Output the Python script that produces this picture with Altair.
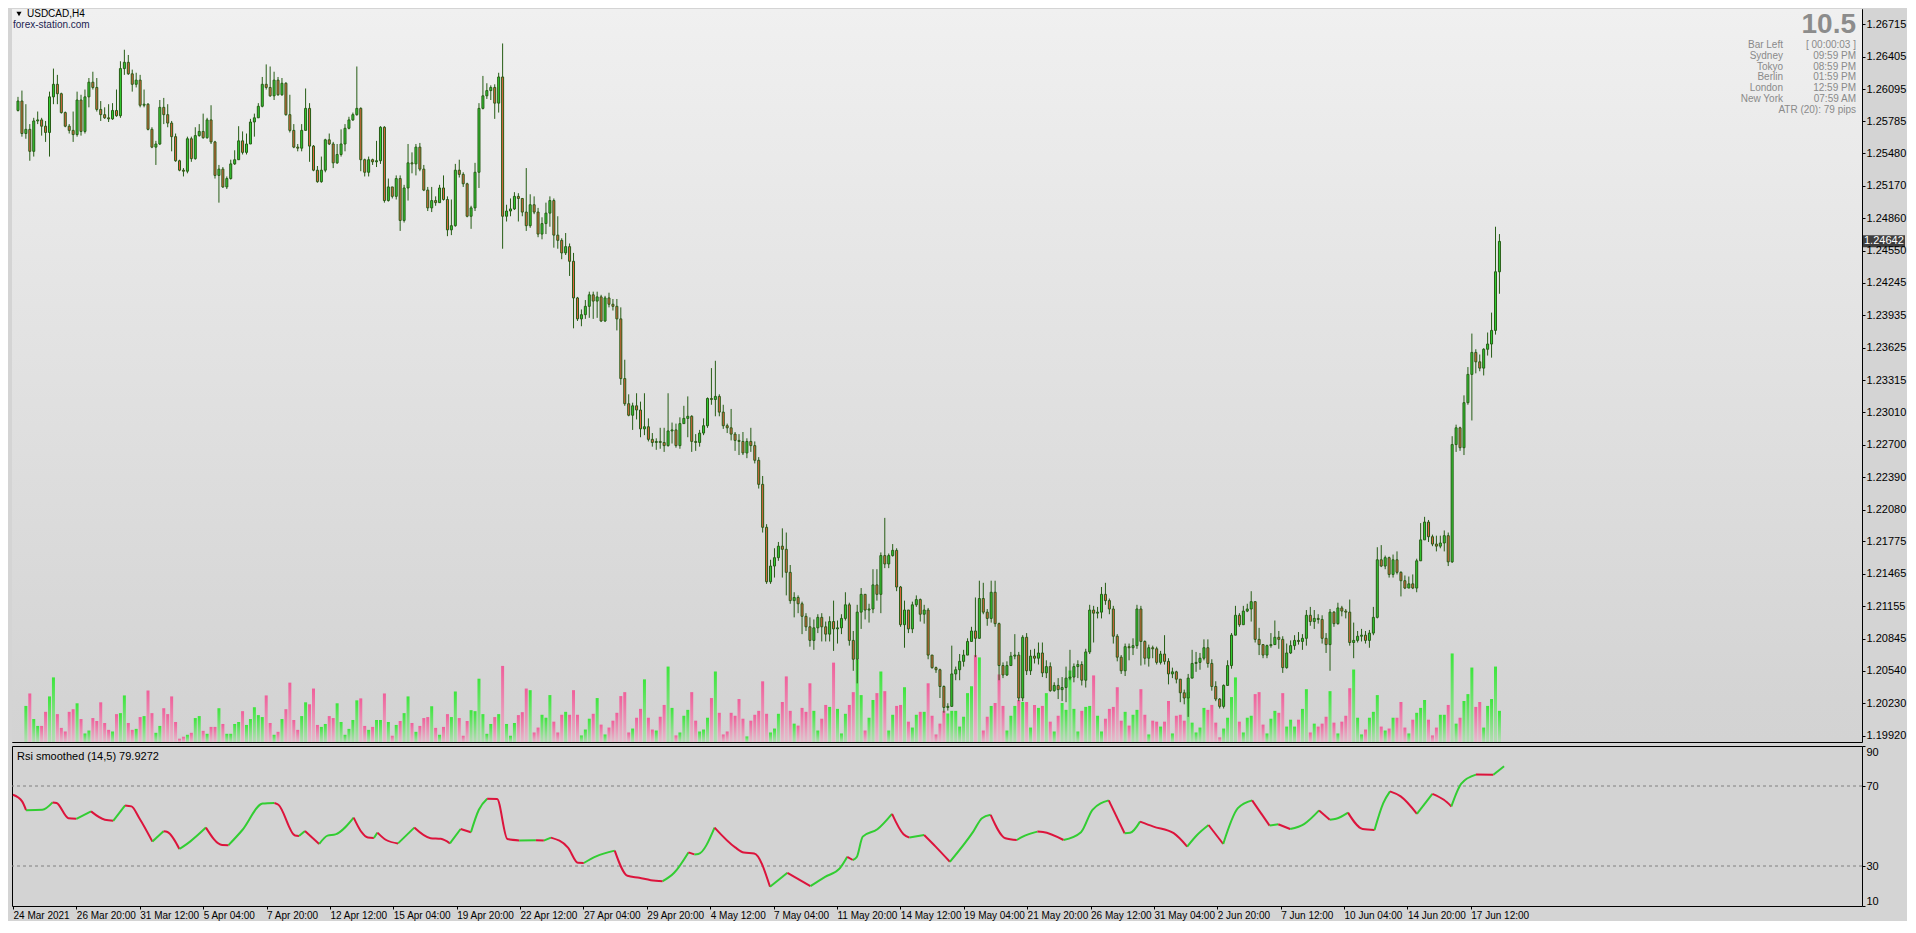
import json
import altair as alt
import pandas as pd

# ---------------- data ----------------
SYMBOL = "USDCAD,H4"
SOURCE = "forex-station.com"

# prices in units of 0.0001 ; each bar opens where the previous one closed
FIRST_OPEN = 12589
CLOSE = [
    12598, 12567, 12571, 12550, 12579, 12580, 12574, 12568, 12602, 12614,
    12605, 12587, 12574, 12570, 12566, 12599, 12569, 12602, 12616, 12611,
    12590, 12585, 12582, 12581, 12589, 12584, 12629, 12635, 12624, 12614,
    12618, 12594, 12595, 12571, 12554, 12557, 12592, 12585, 12577, 12564,
    12541, 12532, 12531, 12562, 12543, 12565, 12569, 12563, 12580, 12559,
    12527, 12533, 12516, 12524, 12538, 12542, 12560, 12549, 12557, 12578,
    12582, 12593, 12614, 12611, 12603, 12618, 12604, 12615, 12585, 12570,
    12554, 12553, 12570, 12591, 12555, 12532, 12521, 12532, 12561, 12557,
    12539, 12547, 12557, 12572, 12580, 12585, 12591, 12542, 12530, 12542,
    12540, 12541, 12573, 12503, 12516, 12507, 12524, 12484, 12515, 12539,
    12538, 12554, 12533, 12513, 12496, 12503, 12501, 12515, 12504, 12475,
    12479, 12532, 12528, 12519, 12488, 12496, 12530, 12591, 12603, 12608,
    12611, 12596, 12621, 12488, 12493, 12495, 12507, 12505, 12492, 12479,
    12499, 12492, 12471, 12481, 12491, 12503, 12470, 12465, 12453, 12459,
    12445, 12410, 12390, 12394, 12402, 12413, 12407, 12411, 12388, 12410,
    12404, 12402, 12390, 12333, 12309, 12298, 12307, 12303, 12285, 12287,
    12275, 12272, 12273, 12272, 12269, 12283, 12284, 12269, 12290, 12295,
    12297, 12273, 12272, 12281, 12288, 12314, 12313, 12316, 12301, 12288,
    12286, 12280, 12274, 12273, 12262, 12273, 12269, 12255, 12232, 12191,
    12139, 12154, 12162, 12173, 12170, 12148, 12121, 12124, 12118, 12106,
    12096, 12083, 12095, 12105, 12096, 12089, 12101, 12094, 12095, 12104,
    12117, 12083, 12065, 12110, 12127, 12112, 12113, 12136, 12127, 12164,
    12156, 12164, 12169, 12134, 12098, 12112, 12094, 12117, 12122, 12108,
    12112, 12069, 12057, 12055, 12039, 12019, 12020, 12051, 12055, 12063,
    12069, 12082, 12092, 12085, 12123, 12110, 12104, 12129, 12099, 12059,
    12050, 12059, 12068, 12069, 12028, 12086, 12054, 12068, 12066, 12071,
    12052, 12058, 12035, 12040, 12036, 12038, 12047, 12048, 12058, 12060,
    12045, 12072, 12112, 12109, 12110, 12127, 12121, 12113, 12087, 12067,
    12054, 12077, 12076, 12078, 12113, 12082, 12066, 12076, 12075, 12062,
    12070, 12063, 12051, 12053, 12046, 12033, 12028, 12047, 12061, 12062,
    12066, 12076, 12061, 12039, 12027, 12020, 12040, 12059, 12088, 12107,
    12098, 12111, 12113, 12120, 12084, 12079, 12069, 12078, 12079, 12086,
    12084, 12057, 12071, 12078, 12083, 12082, 12085, 12107, 12101, 12104,
    12103, 12085, 12079, 12110, 12099, 12114, 12111, 12110, 12081, 12083,
    12087, 12088, 12083, 12090, 12105, 12160, 12154, 12162, 12146, 12160,
    12148, 12140, 12133, 12137, 12133, 12159, 12179, 12196, 12182, 12175,
    12173, 12176, 12183, 12158, 12270, 12286, 12267, 12310, 12337, 12358,
    12349, 12343, 12361, 12366, 12379, 12435, 12464,
]
HIGH = [
    12602, 12608, 12595, 12576, 12582, 12588, 12582, 12579, 12607, 12629,
    12623, 12606, 12588, 12576, 12588, 12607, 12604, 12609, 12620, 12626,
    12620, 12598, 12592, 12595, 12596, 12609, 12636, 12647, 12642, 12628,
    12625, 12623, 12609, 12596, 12573, 12560, 12599, 12601, 12595, 12579,
    12567, 12542, 12534, 12564, 12564, 12573, 12576, 12586, 12582, 12594,
    12560, 12537, 12535, 12526, 12542, 12551, 12574, 12569, 12567, 12581,
    12586, 12596, 12621, 12633, 12631, 12626, 12621, 12620, 12616, 12604,
    12576, 12557, 12576, 12610, 12596, 12556, 12536, 12545, 12562, 12567,
    12559, 12557, 12571, 12576, 12583, 12587, 12631, 12592, 12543, 12545,
    12543, 12560, 12574, 12574, 12524, 12512, 12527, 12527, 12518, 12557,
    12549, 12557, 12558, 12537, 12516, 12516, 12507, 12518, 12527, 12507,
    12504, 12538, 12542, 12530, 12520, 12498, 12539, 12596, 12622, 12615,
    12613, 12614, 12625, 12653, 12499, 12505, 12511, 12510, 12505, 12534,
    12509, 12507, 12496, 12487, 12501, 12507, 12505, 12488, 12467, 12472,
    12462, 12453, 12411, 12399, 12408, 12416, 12416, 12416, 12413, 12412,
    12415, 12409, 12409, 12401, 12351, 12318, 12310, 12319, 12311, 12319,
    12295, 12281, 12276, 12286, 12286, 12319, 12291, 12290, 12296, 12307,
    12316, 12298, 12280, 12284, 12295, 12315, 12343, 12350, 12318, 12308,
    12290, 12304, 12282, 12280, 12282, 12276, 12286, 12273, 12258, 12240,
    12194, 12160, 12171, 12177, 12190, 12186, 12155, 12129, 12126, 12120,
    12109, 12105, 12103, 12108, 12109, 12101, 12106, 12121, 12102, 12108,
    12129, 12119, 12092, 12117, 12133, 12127, 12118, 12151, 12151, 12167,
    12200, 12166, 12175, 12171, 12135, 12121, 12112, 12120, 12126, 12123,
    12117, 12114, 12069, 12058, 12056, 12040, 12023, 12078, 12058, 12070,
    12074, 12085, 12096, 12124, 12140, 12138, 12113, 12140, 12140, 12100,
    12062, 12063, 12072, 12089, 12072, 12088, 12090, 12074, 12075, 12081,
    12081, 12064, 12062, 12043, 12047, 12048, 12058, 12074, 12061, 12064,
    12063, 12075, 12117, 12116, 12115, 12134, 12138, 12123, 12116, 12089,
    12069, 12080, 12080, 12085, 12117, 12116, 12083, 12079, 12078, 12077,
    12073, 12088, 12066, 12057, 12054, 12046, 12036, 12051, 12074, 12072,
    12071, 12084, 12084, 12065, 12044, 12028, 12041, 12064, 12090, 12116,
    12109, 12116, 12118, 12130, 12120, 12095, 12079, 12079, 12090, 12102,
    12092, 12087, 12080, 12083, 12088, 12091, 12089, 12112, 12115, 12112,
    12108, 12107, 12090, 12113, 12111, 12119, 12116, 12113, 12122, 12100,
    12092, 12094, 12092, 12093, 12115, 12172, 12174, 12164, 12163, 12165,
    12168, 12149, 12145, 12144, 12146, 12161, 12195, 12201, 12198, 12184,
    12183, 12183, 12188, 12186, 12278, 12289, 12287, 12317, 12344, 12376,
    12361, 12356, 12362, 12377, 12396, 12478, 12471,
]
LOW = [
    12588, 12564, 12562, 12541, 12545, 12576, 12565, 12559, 12545, 12595,
    12595, 12586, 12573, 12567, 12559, 12564, 12565, 12567, 12592, 12609,
    12588, 12579, 12581, 12578, 12580, 12583, 12582, 12623, 12623, 12607,
    12611, 12592, 12592, 12570, 12553, 12537, 12556, 12576, 12573, 12550,
    12540, 12531, 12526, 12529, 12540, 12542, 12564, 12562, 12562, 12557,
    12524, 12501, 12515, 12514, 12523, 12537, 12542, 12547, 12547, 12557,
    12564, 12582, 12592, 12609, 12602, 12599, 12603, 12603, 12584, 12568,
    12553, 12550, 12550, 12570, 12540, 12531, 12520, 12520, 12530, 12556,
    12534, 12538, 12545, 12550, 12571, 12579, 12584, 12531, 12526, 12526,
    12537, 12535, 12538, 12501, 12502, 12505, 12504, 12474, 12482, 12503,
    12529, 12527, 12531, 12512, 12493, 12492, 12498, 12501, 12503, 12469,
    12470, 12478, 12525, 12516, 12487, 12476, 12493, 12515, 12590, 12600,
    12599, 12581, 12587, 12457, 12483, 12488, 12494, 12483, 12488, 12474,
    12477, 12490, 12468, 12466, 12471, 12478, 12458, 12457, 12447, 12451,
    12431, 12381, 12388, 12383, 12390, 12391, 12390, 12391, 12387, 12387,
    12401, 12398, 12379, 12327, 12307, 12297, 12284, 12294, 12277, 12279,
    12273, 12268, 12265, 12266, 12263, 12268, 12271, 12267, 12266, 12290,
    12277, 12263, 12264, 12268, 12279, 12286, 12308, 12297, 12297, 12285,
    12281, 12274, 12264, 12260, 12260, 12257, 12263, 12252, 12228, 12186,
    12137, 12137, 12143, 12159, 12143, 12126, 12118, 12105, 12109, 12089,
    12092, 12077, 12074, 12090, 12082, 12082, 12082, 12073, 12080, 12089,
    12102, 12078, 12054, 12042, 12094, 12103, 12100, 12109, 12121, 12109,
    12152, 12152, 12163, 12130, 12096, 12076, 12090, 12090, 12115, 12101,
    12099, 12065, 12056, 12052, 12028, 12014, 12016, 12020, 12045, 12045,
    12058, 12069, 12082, 12067, 12085, 12108, 12097, 12100, 12096, 12045,
    12047, 12049, 12059, 12065, 12025, 12025, 12050, 12050, 12061, 12060,
    12048, 12047, 12034, 12034, 12027, 12025, 12024, 12045, 12043, 12047,
    12040, 12038, 12070, 12081, 12104, 12104, 12117, 12108, 12080, 12063,
    12051, 12049, 12064, 12069, 12075, 12059, 12060, 12058, 12066, 12060,
    12060, 12060, 12041, 12047, 12042, 12024, 12022, 12010, 12047, 12053,
    12055, 12064, 12057, 12035, 12025, 12018, 12018, 12040, 12056, 12088,
    12096, 12098, 12110, 12101, 12081, 12069, 12066, 12066, 12076, 12079,
    12075, 12052, 12056, 12070, 12074, 12079, 12074, 12078, 12097, 12094,
    12099, 12080, 12071, 12054, 12096, 12098, 12106, 12104, 12078, 12066,
    12081, 12082, 12080, 12076, 12088, 12104, 12153, 12151, 12143, 12143,
    12146, 12125, 12132, 12133, 12132, 12129, 12159, 12180, 12177, 12173,
    12168, 12171, 12168, 12154, 12157, 12263, 12264, 12260, 12308, 12293,
    12338, 12340, 12336, 12355, 12353, 12375, 12414,
]
# tick volume (relative units)
VOLUME = [
    0, 0,
    110, 148, 70, 49, 49, 92, 139, 197, 85, 43,
    32, 92, 100, 118, 70, 26, 35, 73, 64, 121,
    58, 37, 32, 85, 88, 142, 58, 37, 40, 76,
    79, 157, 88, 28, 49, 103, 85, 139, 61, 10,
    16, 22, 28, 73, 79, 34, 25, 46, 46, 103,
    55, 25, 25, 55, 61, 94, 52, 70, 106, 82,
    76, 142, 58, 22, 31, 70, 100, 181, 67, 37,
    79, 121, 115, 163, 52, 46, 55, 79, 73, 118,
    61, 22, 40, 67, 127, 133, 49, 37, 46, 67,
    67, 148, 61, 19, 52, 64, 88, 139, 58, 31,
    49, 73, 76, 109, 43, 22, 46, 85, 76, 154,
    73, 19, 64, 97, 94, 193, 85, 25, 55, 76,
    85, 232, 55, 19, 58, 82, 91, 163,
    158, 29, 44, 83, 74, 143, 62, 29, 83, 92,
    83, 158, 83, 20, 38, 71, 86, 134, 53, 23,
    44, 65, 89, 140, 152, 29, 41, 74, 101, 191,
    74, 38, 35, 77, 113, 230, 104, 20, 29, 80,
    98, 152, 65, 32, 38, 74, 134, 215, 89, 23,
    32, 89, 80, 131, 71, 17, 65, 83, 95, 185,
    86, 29, 41, 86, 122, 200, 95, 56, 50, 104,
    92, 179, 95, 35, 71, 113, 107, 242, 101, 26,
    86, 113, 152, 250, 143, 35, 74, 128, 149, 215,
    155, 35, 83, 110, 113, 167, 62, 44, 83, 92,
    92, 179, 80, 23, 56, 95, 87, 95, 95, 47,
    77, 149, 170, 265, 258, 35, 77, 110, 119, 206,
    110, 35, 80, 110, 128, 122,
    122, 44, 113, 104, 110, 149, 62, 32, 80, 119,
    98, 218, 101, 32, 95, 107, 110, 203, 80, 32,
    71, 101, 107, 167, 65, 92, 50, 83, 98, 161,
    83, 23, 65, 62, 47, 62, 125, 26, 80, 83,
    65, 152, 59, 29, 44, 104, 98, 113, 59, 14,
    41, 74, 137, 197, 62, 29, 74, 80, 146, 152,
    53, 26, 71, 95, 89, 149, 47, 68, 47, 68,
    101, 161, 29, 56, 47, 56, 77, 155, 59, 26,
    62, 80, 164, 221, 74, 23, 38, 74, 92, 143,
    47, 35, 41, 74, 74, 122, 44, 26, 68, 89,
    104, 128, 68, 20, 44, 83, 83, 113, 270, 56,
    74, 125, 146, 227, 107, 122, 44, 110, 131, 230, 95,
]

# smoothed RSI, read at the turning points of the curve (bar index, value)
RSI_BAR = [
    0, 2.3, 3.3, 7.4, 10, 11, 14, 16, 19.7, 23.2,
    25.3, 28.3, 29.9, 31.9, 35.2, 38, 39, 42, 44.7, 48.7,
    52.8, 54.4, 57.9, 63, 66, 67, 71.2, 72.2, 73.7, 77.3,
    79.4, 81.4, 86, 88, 89.6, 91.1, 92, 94.2, 97.2, 101.3,
    105.4, 108, 110.3, 113, 115.6, 117.6, 119.7, 122.2, 124.8, 127.8,
    132, 134, 135.8, 140.1, 142.6, 144.1, 147.2, 149.3, 151.9, 155.1,
    158.1, 161, 164, 166.9, 170.5, 172, 173, 177.1, 182.3, 184.5,
    187.1, 191.1, 195.5, 201.3, 205, 208.7, 210.6, 212, 213, 214.5,
    218.2, 221.9, 224.8, 226.3, 230, 232.9, 236.5, 242.4, 244.6, 246.8,
    250.5, 253.4, 254.9, 258.6, 260, 265.2, 269.6, 272.5, 276.6, 280.6,
    282, 284.5, 287.9, 293, 296.4, 298.9, 301.8, 305.5, 309.2, 312.8,
    317.2, 319.4, 322.4, 326, 329.7, 332.4, 334, 337, 340.7, 343.7,
    345.9, 347.6, 350.3, 354.4, 358.3, 361.2, 363.1, 365.6, 369.3, 373.7,
    376.4,
]
RSI_VAL = [
    65.6, 62.3, 57.9, 58.1, 61.8, 61.5, 53.9, 53.6, 57.3, 53.1,
    52.6, 60.3, 59.8, 53.9, 42.2, 47.4, 47.0, 38.5, 42.2, 49.2,
    40.5, 40.4, 48.0, 61.2, 61.5, 60.6, 45.2, 45.0, 47.5, 41.0,
    45.2, 45.8, 54.2, 46.9, 44.2, 44.0, 46.7, 43.0, 41.3, 49.2,
    43.9, 43.6, 41.3, 48.5, 46.9, 58.1, 63.6, 63.5, 43.5, 42.8,
    42.9, 42.7, 44.2, 39.2, 31.6, 31.5, 34.8, 36.3, 37.7, 25.1,
    24.1, 22.9, 22.4, 26.6, 36.8, 35.8, 36.0, 49.2, 39.3, 36.7,
    36.3, 19.6, 26.6, 19.9, 24.6, 28.8, 34.6, 33.0, 34.5, 44.7,
    48.4, 56.1, 45.9, 44.2, 45.5, 39.7, 32.1, 47.2, 53.9, 55.6,
    43.9, 43.0, 44.7, 47.2, 47.0, 43.0, 46.9, 58.1, 62.8, 46.4,
    46.6, 52.2, 49.7, 46.4, 39.7, 45.5, 50.5, 41.0, 58.9, 62.8,
    50.2, 50.9, 48.5, 51.1, 57.8, 53.1, 53.6, 56.7, 48.5, 48.0,
    61.4, 67.3, 64.8, 56.1, 66.1, 63.1, 59.8, 71.2, 75.7, 75.6,
    79.9,
]
RSI_TITLE = "Rsi smoothed (14,5) 79.9272"
RSI_LEVELS = [70, 30]
RSI_TICKS = [90, 70, 30, 10]

PRICE_TICKS = [1.26715, 1.26405, 1.26095, 1.25785, 1.25480, 1.25170, 1.24860,
               1.24550, 1.24245, 1.23935, 1.23625, 1.23315, 1.23010, 1.22700,
               1.22390, 1.22080, 1.21775, 1.21465, 1.21155, 1.20845, 1.20540,
               1.20230, 1.19920]
CURRENT_PRICE = 1.24642

TIME_TICKS = [0, 16, 32, 48, 64, 80, 96, 112, 128, 144, 160, 176, 192, 208,
              224, 240, 256, 272, 288, 304, 320, 336, 352, 368]
TIME_LABELS = ["24 Mar 2021", "26 Mar 20:00", "31 Mar 12:00", "5 Apr 04:00",
               "7 Apr 20:00", "12 Apr 12:00", "15 Apr 04:00", "19 Apr 20:00",
               "22 Apr 12:00", "27 Apr 04:00", "29 Apr 20:00", "4 May 12:00",
               "7 May 04:00", "11 May 20:00", "14 May 12:00", "19 May 04:00",
               "21 May 20:00", "26 May 12:00", "31 May 04:00", "2 Jun 20:00",
               "7 Jun 12:00", "10 Jun 04:00", "14 Jun 20:00", "17 Jun 12:00"]

CLOCK_BIG = "10.5"
INFO_LABELS = ["Bar Left", "Sydney", "Tokyo", "Berlin", "London", "New York"]
INFO_VALUES = ["[ 00:00:03 ]", "09:59 PM", "08:59 PM", "01:59 PM", "12:59 PM",
               "07:59 AM", "ATR (20): 79 pips"]

assert len(CLOSE) == len(HIGH) == len(LOW) == len(VOLUME)
assert len(RSI_BAR) == len(RSI_VAL)

# ---------------- styling ----------------
FONT = "Liberation Sans"
W, H1, H2 = 1850, 733, 160
DARK = "#275d16"
UP_FILL = "#32cd32"
DOWN_FILL = "#e2643f"
RSI_UP = "#32cd32"
RSI_DOWN = "#dc143c"
BG = "#d4d4d4"

n = len(CLOSE)
opens = [FIRST_OPEN] + CLOSE[:-1]
df = pd.DataFrame({
    "i": list(range(n)),
    "open": [v / 1e4 for v in opens],
    "close": [v / 1e4 for v in CLOSE],
    "high": [v / 1e4 for v in HIGH],
    "low": [v / 1e4 for v in LOW],
    "vol": VOLUME,
})
df["dir"] = ["up" if c >= o else "down" for o, c in zip(opens, CLOSE)]

# RSI: split into runs of equal direction (consecutive read points only)
rsi_rows = []
run, prev = 0, None
for k in range(len(RSI_BAR) - 1):
    d = "rise" if RSI_VAL[k + 1] >= RSI_VAL[k] else "fall"
    if d != prev:
        run += 1
        rsi_rows.append({"run": run, "trend": d, "bar": RSI_BAR[k], "rsi": RSI_VAL[k]})
        prev = d
    rsi_rows.append({"run": run, "trend": d, "bar": RSI_BAR[k + 1], "rsi": RSI_VAL[k + 1]})
rsi_df = pd.DataFrame(rsi_rows)

one = pd.DataFrame({"a": [0]})

xscale = alt.Scale(domain=[-0.25, 466.75], nice=False, zero=False)
pscale = alt.Scale(domain=[1.19860, 1.26859], nice=False, zero=False)
vscale = alt.Scale(domain=[0, 2235], nice=False, zero=True)
rscale = alt.Scale(domain=[10, 90], nice=False, zero=False)

price_axis = alt.Axis(orient="right", values=PRICE_TICKS, format=".5f", title=None,
                      tickSize=3, labelPadding=1, labelOverlap=False, labelBound=False)

bg_grad = alt.LinearGradient(gradient="linear", x1=0, x2=0, y1=0, y2=1, stops=[
    alt.GradientStop(color="#f0f0f0", offset=0),
    alt.GradientStop(color="#d4d4d4", offset=0.94),
    alt.GradientStop(color="#d3d3d3", offset=1)])
vol_up_grad = alt.LinearGradient(gradient="linear", x1=0, x2=0, y1=0, y2=1, stops=[
    alt.GradientStop(color="#3be63b", offset=0),
    alt.GradientStop(color="#b6dcb6", offset=1)])
vol_dn_grad = alt.LinearGradient(gradient="linear", x1=0, x2=0, y1=0, y2=1, stops=[
    alt.GradientStop(color="#f05e9a", offset=0),
    alt.GradientStop(color="#e4bfcc", offset=1)])

bg = alt.Chart(one).mark_rect(color=bg_grad).encode(
    x=alt.value(0), x2=alt.value(W), y=alt.value(0), y2=alt.value(H1))

base = alt.Chart(df)
vol_up = base.transform_filter(alt.datum.dir == "up").mark_bar(size=3, color=vol_up_grad).encode(
    x=alt.X("i:Q", scale=xscale, axis=None),
    y=alt.Y("vol:Q", scale=vscale, axis=None))
vol_dn = base.transform_filter(alt.datum.dir == "down").mark_bar(size=3, color=vol_dn_grad).encode(
    x=alt.X("i:Q", scale=xscale, axis=None),
    y=alt.Y("vol:Q", scale=vscale, axis=None))

wicks = base.mark_rule(color=DARK, strokeWidth=1).encode(
    x=alt.X("i:Q", scale=xscale, axis=None),
    y=alt.Y("low:Q", scale=pscale, axis=price_axis),
    y2="high:Q")
bodies = base.mark_bar(size=2, stroke=DARK, strokeWidth=1).encode(
    x=alt.X("i:Q", scale=xscale, axis=None),
    y=alt.Y("open:Q", scale=pscale, axis=None),
    y2="close:Q",
    color=alt.Color("dir:N", scale=alt.Scale(domain=["up", "down"], range=[UP_FILL, DOWN_FILL]),
                    legend=None))

cur_df = pd.DataFrame({"p": [CURRENT_PRICE], "t": [f"{CURRENT_PRICE:.5f}"]})
cur_box = alt.Chart(cur_df).mark_tick(orient="horizontal", thickness=12, size=42, color="black").encode(
    x=alt.value(W + 22), y=alt.Y("p:Q", scale=pscale, axis=None))
cur_txt = alt.Chart(cur_df).mark_text(align="left", baseline="middle", color="white",
                                      font=FONT, fontSize=11).encode(
    x=alt.value(W + 2), y=alt.Y("p:Q", scale=pscale, axis=None), text="t:N")

tri = alt.Chart(one).mark_point(shape="triangle-down", filled=True, size=26, color="black",
                                opacity=1).encode(x=alt.value(7), y=alt.value(5))
sym = alt.Chart(one).mark_text(text=SYMBOL, align="left", baseline="middle", font=FONT,
                               fontSize=10, color="black").encode(x=alt.value(15), y=alt.value(5))
src = alt.Chart(one).mark_text(text=SOURCE, align="left", baseline="middle", font=FONT,
                               fontSize=10, color="#1c2451").encode(x=alt.value(1), y=alt.value(16))
big = alt.Chart(one).mark_text(text=CLOCK_BIG, align="right", baseline="alphabetic", font=FONT,
                               fontSize=28, fontWeight="bold", color="#8c8c8c").encode(
    x=alt.value(W - 6), y=alt.value(24))
info_l = alt.Chart(one).mark_text(text=INFO_LABELS, align="right", baseline="top", font=FONT,
                                  fontSize=10, lineHeight=10.8, color="#8a8a8a").encode(
    x=alt.value(W - 79), y=alt.value(31))
info_v = alt.Chart(one).mark_text(text=INFO_VALUES, align="right", baseline="top", font=FONT,
                                  fontSize=10, lineHeight=10.8, color="#8a8a8a").encode(
    x=alt.value(W - 6), y=alt.value(31))

price = alt.layer(bg, vol_up, vol_dn, wicks, bodies, cur_box, cur_txt,
                  tri, sym, src, big, info_l, info_v).resolve_scale(
    y="independent").properties(width=W, height=H1)

# ---------------- RSI panel ----------------
time_expr = f"{json.dumps(TIME_LABELS)}[indexof({json.dumps(TIME_TICKS)}, datum.value)]"
time_axis = alt.Axis(orient="bottom", values=TIME_TICKS, labelExpr=time_expr, title=None,
                     labelAlign="left", labelPadding=1, tickSize=3, labelOverlap=False,
                     labelBound=False, labelFlush=False, labelFontSize=10)
rsi_axis = alt.Axis(orient="right", values=RSI_TICKS, format="d", title=None,
                    tickSize=3, labelPadding=1, labelFlush=True, labelOverlap=False)

levels = alt.Chart(pd.DataFrame({"lvl": RSI_LEVELS})).mark_rule(
    color="#808080", strokeDash=[3, 3], strokeWidth=1).encode(
    y=alt.Y("lvl:Q", scale=rscale, axis=rsi_axis))
rsi_line = alt.Chart(rsi_df).mark_line(strokeWidth=2, interpolate="monotone").encode(
    x=alt.X("bar:Q", scale=xscale, axis=time_axis),
    y=alt.Y("rsi:Q", scale=rscale, axis=rsi_axis),
    color=alt.Color("trend:N", scale=alt.Scale(domain=["rise", "fall"], range=[RSI_UP, RSI_DOWN]),
                    legend=None),
    detail="run:N",
    order="bar:Q")
rsi_title = alt.Chart(one).mark_text(text=RSI_TITLE, align="left", baseline="middle", font=FONT,
                                     fontSize=11, color="black").encode(
    x=alt.value(5), y=alt.value(11))

rsi = alt.layer(levels, rsi_line, rsi_title).properties(width=W, height=H2)

chart = alt.vconcat(price, rsi, spacing=2).resolve_scale(color="independent").properties(
    padding=0, background=BG
).configure_view(
    stroke="black", strokeWidth=1, fill="#d3d3d3"
).configure_axis(
    labelFont=FONT, labelFontSize=11, labelColor="black", tickColor="black",
    tickWidth=1, grid=False, domain=False
)

chart.save("out.html", embed_options={"renderer": "svg", "actions": False})
